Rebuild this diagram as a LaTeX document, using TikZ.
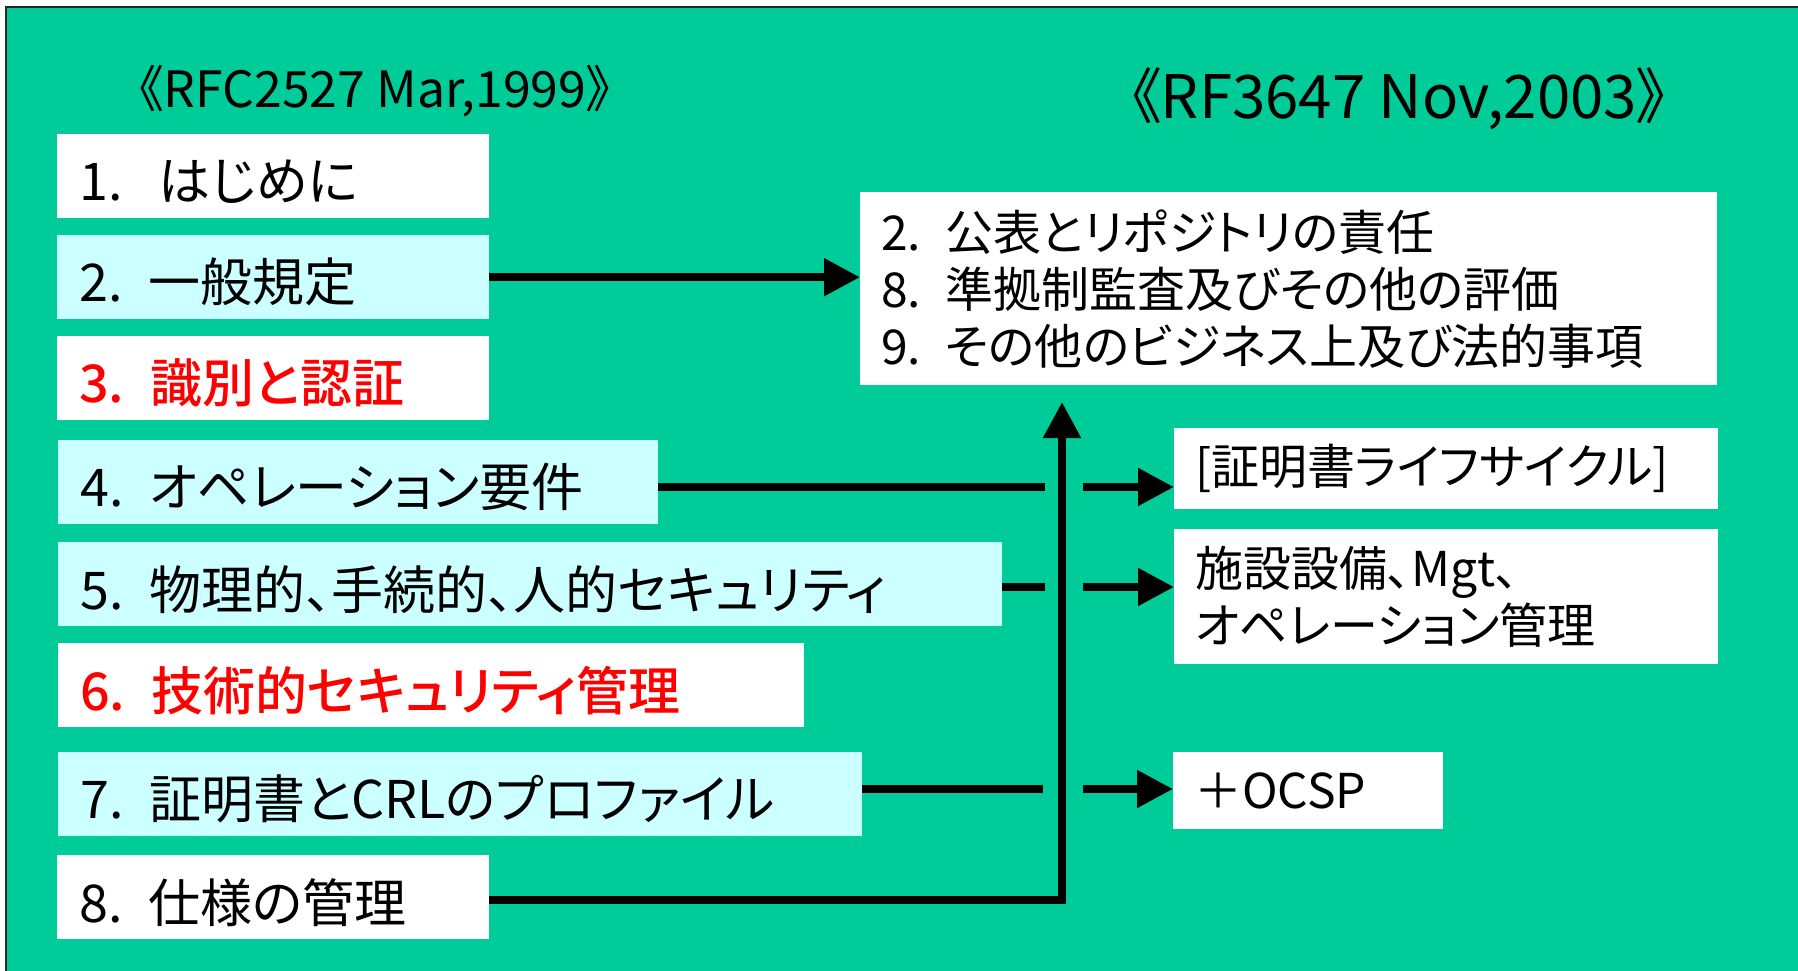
\documentclass[tikz,border=0pt]{standalone}
\usepackage{fontspec}
\setmainfont{Noto Sans CJK JP}[RawFeature={+palt}]
\newfontfamily\medfont{Noto Sans CJK JP Medium}[RawFeature={+palt}]
\usetikzlibrary{arrows.meta}
\definecolor{bg}{HTML}{00CC99}
\definecolor{lc}{HTML}{CCFFFF}
\definecolor{rd}{HTML}{FF0000}
\newcommand\nsep{\hspace{0.5em}}
\newcommand\lwr[1]{\raisebox{-5pt}[\height][\depth]{#1}}
\begin{document}
\begin{tikzpicture}[x=1pt,y=-1pt,
  lbox/.style={anchor=north west, inner xsep=22pt, inner ysep=0pt, minimum height=84pt,
    align=left, font=\fontsize{52}{62}\selectfont},
  rbox/.style={anchor=north west, inner xsep=21pt, inner ysep=0pt,
    align=left, font=\fontsize{48}{57}\selectfont, fill=white},
  conn/.style={line width=8pt},
  arr/.style={conn, -{Triangle[length=36pt,width=36pt]}},
  ttl/.style={anchor=base, inner sep=0pt}
]
\useasboundingbox (0,0) rectangle (1798,971);
\fill[white] (0,0) rectangle (1798,971);
\fill[bg] (6,7) rectangle (1798,971);
\draw[line width=2pt, black!85] (6,971) -- (6,7) -- (1798,7);

% titles
\node[ttl, font=\fontsize{50}{60}\selectfont] (t1) at (375,108) {《RFC2527 Mar,1999》};
\node[ttl, font=\fontsize{60}{70}\selectfont] (t2) at (1399,119) {《RF3647 Nov,2003》};

% left boxes
\node[lbox, fill=white, text width=388pt] (b1) at (57,134) {\lwr{1.\nsep\hspace{10pt}はじめに}};
\node[lbox, fill=lc, text width=388pt] (b2) at (57,235) {\lwr{2.\nsep 一般規定}};
\node[lbox, fill=white, text width=388pt, text=rd, font=\fontsize{52}{62}\medfont] (b3) at (57,336) {\lwr{3.\nsep 識別と認証}};
\node[lbox, fill=lc, text width=556pt] (b4) at (58,440) {\lwr{4.\nsep オペレーション要件}};
\node[lbox, fill=lc, text width=900pt] (b5) at (58,542) {\lwr{5.\nsep 物理的、手続的、人的セキュリティ}};
\node[lbox, fill=white, text width=702pt, text=rd, font=\fontsize{52}{62}\medfont] (b6) at (58,643) {\lwr{6.\nsep 技術的セキュリティ管理}};
\node[lbox, fill=lc, text width=760pt] (b7) at (58,752) {\lwr{7.\nsep 証明書とCRLのプロファイル}};
\node[lbox, fill=white, text width=388pt] (b8) at (57,855) {\lwr{8.\nsep 仕様の管理}};

% right boxes
\node[rbox, text width=815pt, minimum height=193pt] (A) at (860,192)
  {2.\nsep 公表とリポジトリの責任\\8.\nsep 準拠制監査及びその他の評価\\9.\nsep その他のビジネス上及び法的事項};
\node[rbox, text width=502pt, minimum height=81pt] (B) at (1174,428) {[証明書ライフサイクル]};
\node[rbox, text width=502pt, minimum height=135pt] (C) at (1174,529) {施設設備、Mgt、\\オペレーション管理};
\node[rbox, text width=228pt, minimum height=77pt] (D) at (1173,752) {＋OCSP};

% junction coordinates
\coordinate (s4) at (1045,487);
\coordinate (r4) at (1083,487);
\coordinate (s5) at (1045,587);
\coordinate (r5) at (1083,587);
\coordinate (s7) at (1043,789);
\coordinate (r7) at (1083,789);
\coordinate (vc) at (1062,900);
\coordinate (vt) at (1062,402);

% connectors
\draw[arr] (b2.east) -- (b2.east -| A.west);
\draw[conn] (b4.east |- s4) -- (s4);
\draw[arr] (r4) -- (B.west |- r4);
\draw[conn] (b5.east |- s5) -- (s5);
\draw[arr] (r5) -- (C.west |- r5);
\draw[conn] (b7.east |- s7) -- (s7);
\draw[arr] (r7) -- (D.west |- r7);
\draw[arr] (b8.east |- vc) -- (vc) -- (vt);
\end{tikzpicture}
\end{document}
